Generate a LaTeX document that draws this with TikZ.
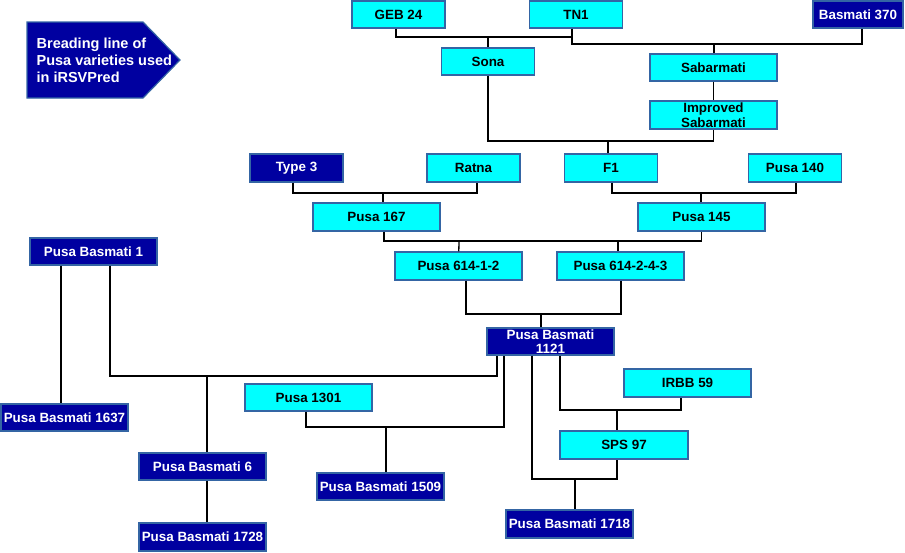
\documentclass[tikz,border=0pt]{standalone}
\usepackage{fontspec}
\setmainfont{Liberation Sans}
\usetikzlibrary{calc}
\definecolor{boxcyan}{HTML}{00FFFF}
\definecolor{boxnavy}{HTML}{0000A0}
\definecolor{boxedge}{HTML}{3465A4}

\begin{document}
\begin{tikzpicture}[x=1pt,y=-1pt,line width=1.3pt]
  \tikzstyle{lightbox}=[draw=boxedge,fill=boxcyan,line width=1.2pt,inner sep=0pt,
                        minimum width=127pt,minimum height=27pt,align=center,
                        font=\bfseries\fontsize{13.4}{14.6}\selectfont]
  \tikzstyle{darkbox}=[lightbox,fill=boxnavy,text=white]
  \tikzstyle{small}=[minimum width=93pt]
  \tikzstyle{link}=[draw=black,line width=1.3pt]

  \useasboundingbox (0,0) rectangle (905,552);

  % title arrow
  \filldraw[fill=boxnavy,draw=boxedge,line width=1.2pt]
    (27,22) -- (143,22) -- (180,60) -- (143,98) -- (27,98) -- cycle;
  \node[anchor=west,align=left,text=white,inner sep=0pt,
        font=\bfseries\fontsize{14.5}{17}\selectfont] (title) at (36,60)
        {Breading line of\\Pusa varieties used\\in iRSVPred};

  % junctions
  \coordinate (j1) at (488,37);
  \coordinate (j2) at (714,44);
  \coordinate (j3) at (608,141);
  \coordinate (j4) at (383,193);
  \coordinate (j5) at (701,193);
  \coordinate (j6) at (459,241);
  \coordinate (j6b) at (618,241);
  \coordinate (j7) at (541,314);
  \coordinate (j8) at (207,376);
  \coordinate (j9) at (386,427);
  \coordinate (j10) at (617,410);
  \coordinate (j11) at (575,479);

  % varieties
  \node[lightbox,small]          (geb)    at (398.5,14.5) {GEB 24};
  \node[lightbox,small]          (tn1)    at (576,14.5)   {TN1};
  \node[darkbox,minimum width=90pt] (bas370) at (858,14.5) {Basmati 370};
  \node[lightbox,small]          (sona)   at (488,61.5)   {Sona};
  \node[lightbox]                (sabar)  at (713.5,67.5) {Sabarmati};
  \node[lightbox,minimum height=28pt] (isabar) at (713.5,115)
        {Improved\\Sabarmati};
  \node[darkbox,small,minimum height=28pt]  (type3) at (296.5,168) {Type 3};
  \node[lightbox,small,minimum height=28pt] (ratna) at (473.5,168) {Ratna};
  \node[lightbox,small,minimum height=28pt] (f1)    at (611,168)   {F1};
  \node[lightbox,small,minimum height=28pt] (p140)  at (795,168)   {Pusa 140};
  \node[lightbox,minimum height=28pt] (p167)  at (376.5,217) {Pusa 167};
  \node[lightbox,minimum height=28pt] (p145)  at (701.5,217) {Pusa 145};
  \node[lightbox,minimum height=28pt] (p6141) at (458.5,266) {Pusa 614-1-2};
  \node[lightbox,minimum height=28pt] (p6142) at (620.5,266) {Pusa 614-2-4-3};
  \node[darkbox]                 (pb1121) at (550.5,341.5) {Pusa Basmati\\1121};
  \node[darkbox]                 (pb1)    at (93.5,251.5)  {Pusa Basmati 1};
  \node[darkbox]                 (pb1637) at (64.5,417.5)  {Pusa Basmati 1637};
  \node[lightbox]                (p1301)  at (308.5,397.5) {Pusa 1301};
  \node[darkbox]                 (pb1509) at (380.5,486.5) {Pusa Basmati 1509};
  \node[darkbox]                 (pb6)    at (202.5,466.5) {Pusa Basmati 6};
  \node[darkbox,minimum height=28pt] (pb1728) at (202.5,537) {Pusa Basmati 1728};
  \node[lightbox,minimum height=28pt] (irbb) at (687.5,383) {IRBB 59};
  \node[lightbox,minimum width=128pt,minimum height=28pt] (sps) at (624,445) {SPS 97};
  \node[darkbox,minimum height=28pt] (pb1718) at (569.5,524) {Pusa Basmati 1718};

  % crosses
  \draw[link] ([xshift=-2.5pt]geb.south) |- (j1) -| ([xshift=-4pt]tn1.south);
  \draw[link] (j1) -- (sona);
  \draw[link] ([xshift=-4pt]tn1.south) |- (j2) -| ([xshift=4pt]bas370.south);
  \draw[link] (j2) -- (j2 |- sabar.north);
  \draw[link] (sabar) -- (isabar);
  \draw[link] (sona) |- (j3) -| (isabar);
  \draw[link] (j3) -- (j3 |- f1.north);
  \draw[link] ([xshift=-3.5pt]type3.south) |- (j4) -| ([xshift=3.5pt]ratna.south);
  \draw[link] (j4) -- (j4 |- p167.north);
  \draw[link] ([xshift=1pt]f1.south) |- (j5) -| ([xshift=1pt]p140.south);
  \draw[link] (j5) -- (j5 |- p145.north);
  \draw[link] ([xshift=7.5pt]p167.south) |- (j6) -| (p145.south);
  \draw[link] (j6) -- (p6141);
  \draw[link] (j6b) -- (j6b |- p6142.north);
  \draw[link] ([xshift=7.5pt]p6141.south) |- (j7) -| ([xshift=0.5pt]p6142.south);
  \draw[link] (j7) -- (j7 |- pb1121.north);
  \draw[link] ([xshift=-32.5pt]pb1.south) -- ([xshift=-32.5pt]pb1.south |- pb1637.north);
  \draw[link] ([xshift=16.5pt]pb1.south) |- (j8) -| ([xshift=-53.5pt]pb1121.south);
  \draw[link] (j8) -- (j8 |- pb6.north);
  \draw[link] (j8 |- pb6.south) -- (j8 |- pb1728.north);
  \draw[link] ([xshift=-2.5pt]p1301.south) |- (j9) -| ([xshift=-46.5pt]pb1121.south);
  \draw[link] (j9) -- (j9 |- pb1509.north);
  \draw[link] ([xshift=9.5pt]pb1121.south) |- (j10) -| ([xshift=-6.5pt]irbb.south);
  \draw[link] (j10) -- (j10 |- sps.north);
  \draw[link] ([xshift=-18.5pt]pb1121.south) |- (j11) -| ([xshift=-7pt]sps.south);
  \draw[link] (j11) -- (j11 |- pb1718.north);
\end{tikzpicture}
\end{document}
